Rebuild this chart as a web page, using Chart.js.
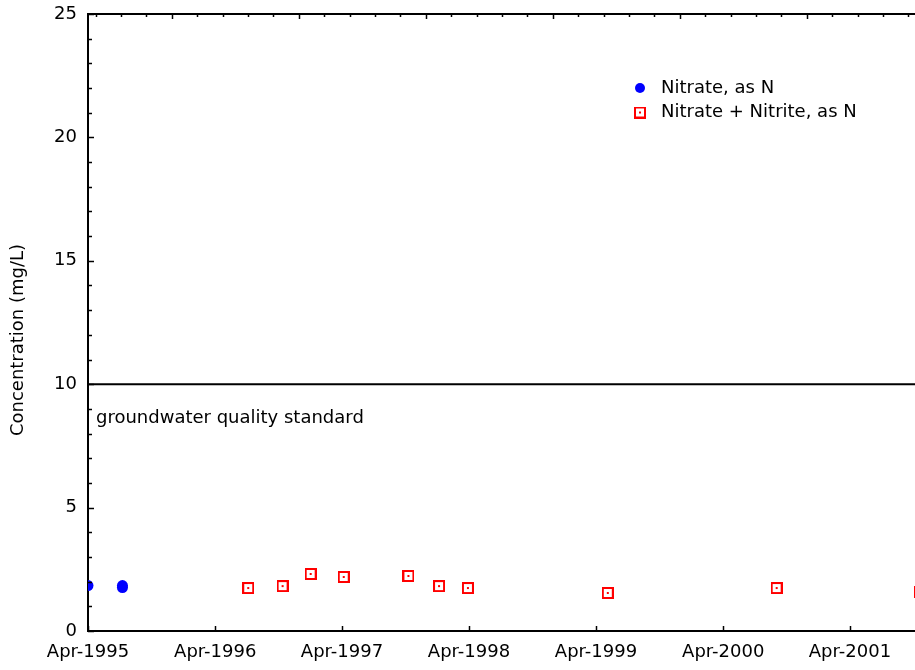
<!DOCTYPE html>
<html>
<head>
<meta charset="utf-8">
<script src="https://cdn.jsdelivr.net/npm/chart.js@4/dist/chart.umd.min.js"></script>
<style>
  body { margin: 0; background: #fff; }
  canvas { display: block; }
</style>
</head>
<body>
<canvas id="nitrateChart" width="915" height="670"></canvas>
<script>
  // Sample dates and concentrations (mg/L)
  const nitrateDates = ['1995-04-01', '1995-07-09', '1995-07-09'];
  const nitrateValues = [1.84, 1.84, 1.76];

  const nitriteDates = ['1996-07-05', '1996-10-12', '1997-01-01', '1997-04-06', '1997-10-09',
    '1998-01-05', '1998-03-29', '1999-05-05', '2000-09-02', '2001-10-20'];
  const nitriteValues = [1.74, 1.82, 2.31, 2.19, 2.23, 1.82, 1.74, 1.54, 1.74, 1.58];

  const xTickDates = ['1995-04-01', '1996-04-01', '1997-04-01', '1998-04-01', '1999-04-01', '2000-04-01', '2001-04-01'];
  const xTickLabels = ['Apr-1995', 'Apr-1996', 'Apr-1997', 'Apr-1998', 'Apr-1999', 'Apr-2000', 'Apr-2001'];
  const xStartDate = '1995-04-01';
  const xEndDate = '2001-10-05';

  const yTickValues = [0, 5, 10, 15, 20, 25];
  const standardValue = 10;
  const standardLabel = 'groundwater quality standard';

  // date string -> fractional year, used as the linear x value
  function toYear(s) {
    const [y, m, d] = s.split('-').map(Number);
    const t = Date.UTC(y, m - 1, d);
    const a = Date.UTC(y, 0, 1);
    const b = Date.UTC(y + 1, 0, 1);
    return y + (t - a) / (b - a);
  }

  const xMin = toYear(xStartDate);
  const xMax = toYear(xEndDate);
  const xTicks = xTickDates.map(toYear);

  // hollow red square with a centre dot
  const squareMarker = document.createElement('canvas');
  squareMarker.width = 12;
  squareMarker.height = 12;
  const mc = squareMarker.getContext('2d');
  mc.strokeStyle = '#ff0000';
  mc.lineWidth = 2;
  mc.strokeRect(1, 1, 10, 10);
  mc.fillStyle = '#ff0000';
  mc.fillRect(5, 5, 2, 2);

  Chart.defaults.font.family = '"DejaVu Sans", sans-serif';
  Chart.defaults.font.size = 18;
  Chart.defaults.color = '#000';

  const framePlugin = {
    id: 'frame',
    afterDatasetsDraw(chart) {
      const { ctx, chartArea: ca, scales } = chart;
      const x = scales.x, y = scales.y;
      ctx.save();
      ctx.strokeStyle = '#000';
      ctx.lineWidth = 2;

      // top border
      ctx.beginPath();
      ctx.moveTo(ca.left - 1, ca.top);
      ctx.lineTo(ca.right, ca.top);
      ctx.stroke();

      // y ticks, pointing inwards
      ctx.lineWidth = 1.5;
      for (let v = y.min; v <= y.max; v++) {
        const py = Math.round(y.getPixelForValue(v)) + 0.5;
        const len = v % 5 === 0 ? 6 : 4;
        ctx.beginPath();
        ctx.moveTo(ca.left, py);
        ctx.lineTo(ca.left + len, py);
        ctx.stroke();
      }

      // bottom ticks at the labelled dates
      xTicks.forEach(v => {
        const px = Math.round(x.getPixelForValue(v)) + 0.5;
        ctx.beginPath();
        ctx.moveTo(px, ca.bottom);
        ctx.lineTo(px, ca.bottom - 5);
        ctx.stroke();
      });

      // top ticks
      for (let i = 0, v = xMin + 0.06; v <= xMax; i++, v += 0.2) {
        const px = Math.round(x.getPixelForValue(v)) + 0.5;
        const len = (i - 3) % 5 === 0 ? 5 : 3;
        ctx.beginPath();
        ctx.moveTo(px, ca.top);
        ctx.lineTo(px, ca.top + len);
        ctx.stroke();
      }

      ctx.fillStyle = '#000';
      ctx.font = '18px "DejaVu Sans", sans-serif';

      // standard label under the line
      ctx.textAlign = 'left';
      ctx.textBaseline = 'alphabetic';
      ctx.fillText(standardLabel, ca.left + 8, y.getPixelForValue(standardValue) + 39);

      // y axis title
      ctx.save();
      ctx.translate(18, 340);
      ctx.rotate(-Math.PI / 2);
      ctx.textAlign = 'center';
      ctx.textBaseline = 'middle';
      ctx.fillText('Concentration (mg/L)', 0, 0);
      ctx.restore();

      // legend
      const lx = 640, ly = 88, gap = 24.5;
      ctx.textBaseline = 'middle';
      ctx.fillStyle = '#0000ff';
      ctx.beginPath();
      ctx.arc(lx, ly, 5, 0, Math.PI * 2);
      ctx.fill();
      ctx.drawImage(squareMarker, lx - 6, ly + gap - 6);
      ctx.fillStyle = '#000';
      ctx.fillText(chart.data.datasets[0].label, lx + 21, ly);
      ctx.fillText(chart.data.datasets[1].label, lx + 21, ly + gap);

      ctx.restore();
    }
  };

  new Chart(document.getElementById('nitrateChart'), {
    type: 'scatter',
    data: {
      datasets: [
        {
          label: 'Nitrate, as N',
          data: nitrateDates.map((d, i) => ({ x: toYear(d), y: nitrateValues[i] })),
          pointStyle: 'circle',
          pointRadius: 5.5,
          pointBorderWidth: 0,
          backgroundColor: '#0000ff',
          borderColor: '#0000ff'
        },
        {
          label: 'Nitrate + Nitrite, as N',
          data: nitriteDates.map((d, i) => ({ x: toYear(d), y: nitriteValues[i] })),
          pointStyle: squareMarker,
          pointRadius: 6
        },
        {
          type: 'line',
          label: 'standard',
          data: [{ x: xMin, y: standardValue }, { x: xMax, y: standardValue }],
          borderColor: '#000',
          borderWidth: 2,
          pointRadius: 0
        }
      ]
    },
    options: {
      responsive: false,
      animation: false,
      layout: { autoPadding: false, padding: { top: 14, right: 0, left: 0, bottom: 0 } },
      plugins: {
        legend: { display: false },
        tooltip: { enabled: false }
      },
      scales: {
        x: {
          type: 'linear',
          min: xMin,
          max: xMax,
          afterBuildTicks: scale => { scale.ticks = xTicks.map(v => ({ value: v })); },
          afterFit: scale => {
            scale.height = 39;
            scale.paddingLeft = 0;
            scale.paddingRight = 0;
          },
          ticks: {
            autoSkip: false,
            maxRotation: 0,
            padding: 11,
            callback: (v, i) => xTickLabels[i]
          },
          grid: { display: false, drawTicks: false },
          border: { color: '#000', width: 2 }
        },
        y: {
          min: 0,
          max: 25,
          afterBuildTicks: scale => { scale.ticks = yTickValues.map(v => ({ value: v })); },
          afterFit: scale => {
            scale.width = 88;
            scale.paddingTop = 0;
            scale.paddingBottom = 0;
          },
          ticks: { autoSkip: false, padding: 11 },
          grid: { display: false, drawTicks: false },
          border: { color: '#000', width: 2 }
        }
      }
    },
    plugins: [framePlugin]
  });
</script>
</body>
</html>
